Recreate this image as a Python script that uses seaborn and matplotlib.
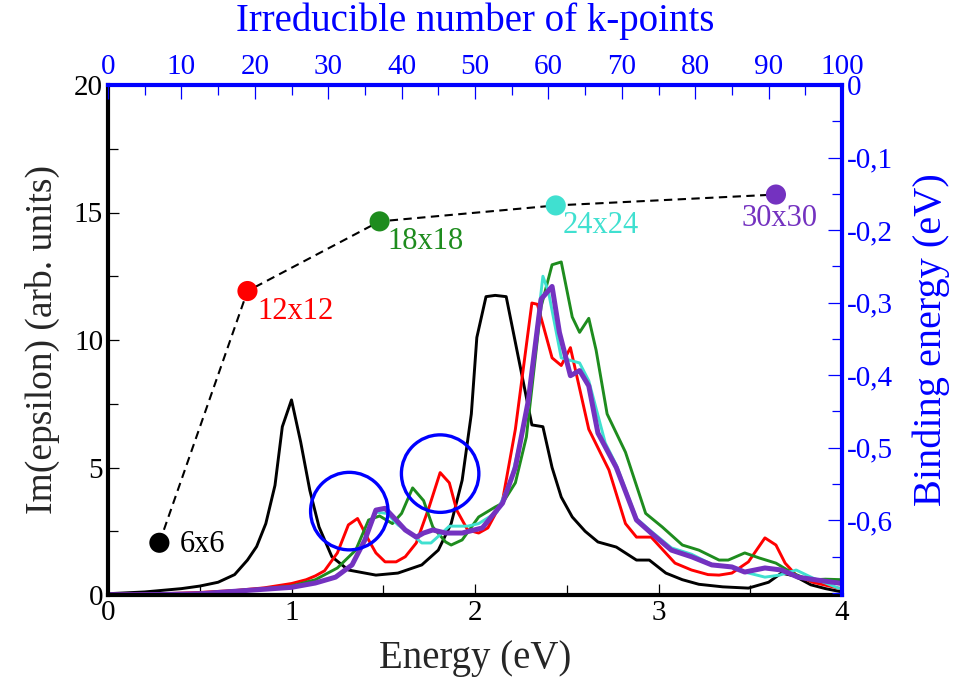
import numpy as np
import pandas as pd
import matplotlib
matplotlib.use("Agg")
import matplotlib.pyplot as plt
from matplotlib.patches import Ellipse
from matplotlib.ticker import MultipleLocator, FuncFormatter
import seaborn as sns

# Im(epsilon) spectra for each k-grid
e_6 = [0.0, 0.2, 0.4, 0.5, 0.6, 0.69, 0.76, 0.81, 0.86, 0.91, 0.95, 1.0, 1.05, 1.1, 1.15, 1.22, 1.31,
       1.46, 1.58, 1.71, 1.8, 1.87, 1.93, 1.98, 2.01, 2.06, 2.11, 2.17, 2.31, 2.37, 2.42, 2.47, 2.53,
       2.6, 2.67, 2.77, 2.88, 2.95, 3.04, 3.13, 3.22, 3.35, 3.49, 3.6, 3.67, 3.74, 3.83, 3.91, 4.0]
im_6 = [0.05, 0.12, 0.25, 0.35, 0.5, 0.8, 1.37, 1.9, 2.8, 4.3, 6.6, 7.65, 6.0, 4.1, 2.67, 1.5, 0.98,
        0.78, 0.86, 1.18, 1.76, 2.8, 4.5, 7.1, 10.1, 11.7, 11.75, 11.7, 6.67, 6.6, 5.0, 3.84, 3.06,
        2.5, 2.08, 1.88, 1.37, 1.37, 0.86, 0.6, 0.42, 0.32, 0.27, 0.5, 0.86, 0.75, 0.4, 0.25, 0.12]

e_12 = [0.0, 0.3, 0.5, 0.7, 0.85, 1.0, 1.08, 1.13, 1.18, 1.25, 1.31, 1.36, 1.42, 1.46, 1.51, 1.57,
        1.62, 1.68, 1.75, 1.81, 1.86, 1.9, 1.96, 2.02, 2.07, 2.15, 2.22, 2.31, 2.34, 2.42, 2.47, 2.52,
        2.62, 2.73, 2.82, 2.88, 2.96, 3.09, 3.18, 3.27, 3.33, 3.4, 3.49, 3.58, 3.64, 3.69, 3.75, 3.84,
        3.98, 4.0]
im_12 = [0.02, 0.05, 0.1, 0.18, 0.28, 0.45, 0.6, 0.75, 0.95, 1.65, 2.75, 3.0, 2.16, 1.65, 1.3, 1.3,
         1.5, 2.04, 3.45, 4.8, 4.4, 3.33, 2.55, 2.43, 2.63, 3.7, 6.5, 11.45, 11.4, 9.3, 9.0, 9.7,
         6.5, 4.9, 2.8, 2.27, 2.27, 1.25, 0.98, 0.8, 0.78, 0.86, 1.3, 2.24, 1.96, 1.25, 0.78, 0.5,
         0.27, 0.25]

e_18 = [0.0, 0.3, 0.5, 0.76, 0.9, 1.0, 1.13, 1.25, 1.35, 1.42, 1.48, 1.55, 1.6, 1.66, 1.72, 1.77,
        1.84, 1.87, 1.93, 2.02, 2.11, 2.15, 2.22, 2.28, 2.36, 2.42, 2.47, 2.53, 2.57, 2.62, 2.66, 2.72,
        2.82, 2.93, 3.02, 3.13, 3.22, 3.33, 3.38, 3.47, 3.55, 3.64, 3.73, 3.82, 3.91, 4.0]
im_18 = [0.01, 0.03, 0.07, 0.2, 0.28, 0.35, 0.6, 1.06, 1.76, 2.94, 3.1, 2.8, 3.2, 4.2, 3.7, 2.67,
         2.08, 1.96, 2.16, 3.06, 3.45, 3.6, 4.4, 6.2, 11.3, 12.95, 13.06, 10.9, 10.3, 10.85, 9.6, 7.1,
         5.6, 3.2, 2.67, 1.96, 1.76, 1.37, 1.37, 1.65, 1.45, 1.25, 0.86, 0.59, 0.62, 0.6]

e_24 = [0.0, 0.3, 0.5, 0.76, 1.0, 1.13, 1.24, 1.33, 1.4, 1.46, 1.52, 1.58, 1.66, 1.71, 1.76, 1.82,
        1.86, 1.96, 2.02, 2.12, 2.2, 2.29, 2.37, 2.4, 2.47, 2.57, 2.62, 2.71, 2.77, 2.88, 2.96, 3.07,
        3.18, 3.29, 3.4, 3.47, 3.58, 3.66, 3.75, 3.84, 3.98, 4.0]
im_24 = [0.01, 0.02, 0.05, 0.18, 0.3, 0.47, 0.7, 1.18, 2.16, 3.25, 3.2, 2.75, 2.35, 2.04, 2.04, 2.43,
         2.7, 2.7, 2.8, 3.25, 4.6, 7.4, 12.5, 11.9, 9.3, 9.1, 8.4, 5.96, 5.1, 3.0, 2.5, 1.85,
         1.6, 1.2, 1.1, 0.9, 0.7, 0.78, 0.98, 0.67, 0.27, 0.25]

e_30 = [0.0, 0.3, 0.5, 0.76, 1.0, 1.13, 1.24, 1.33, 1.4, 1.46, 1.51, 1.57, 1.62, 1.68, 1.72, 1.77,
        1.84, 1.93, 2.04, 2.15, 2.22, 2.29, 2.36, 2.42, 2.46, 2.52, 2.57, 2.62, 2.67, 2.77, 2.88, 2.96,
        3.07, 3.18, 3.29, 3.4, 3.47, 3.58, 3.67, 3.76, 3.86, 3.98, 4.0]
im_30 = [0.01, 0.02, 0.05, 0.18, 0.3, 0.47, 0.7, 1.18, 2.16, 3.33, 3.4, 2.94, 2.55, 2.27, 2.43, 2.55,
         2.43, 2.43, 2.63, 3.6, 5.0, 7.6, 11.6, 12.1, 10.3, 8.6, 8.8, 8.2, 6.35, 5.0, 2.94, 2.43,
         1.76, 1.5, 1.18, 1.1, 0.9, 1.06, 0.98, 0.7, 0.59, 0.47, 0.45]

# binding energy convergence
grids = ["6x6", "12x12", "18x18", "24x24", "30x30"]
kpoints = [7, 19, 37, 61, 91]
ebind = [-0.631, -0.284, -0.188, -0.166, -0.151]

colors = {"6x6": "black", "12x12": "#ff0000", "18x18": "#1e8c1e",
          "24x24": "#40e0d0", "30x30": "#7432c0"}
widths = {"6x6": 2.1, "12x12": 2.1, "18x18": 2.1, "24x24": 2.1, "30x30": 3.6}

spec = pd.concat([
    pd.DataFrame({"energy": e, "im": v, "grid": g})
    for g, e, v in zip(grids, [e_6, e_12, e_18, e_24, e_30], [im_6, im_12, im_18, im_24, im_30])
], ignore_index=True)

sns.set_style("ticks")
plt.rcParams["font.family"] = ["Liberation Serif", "DejaVu Serif"]
blue = "#0000ff"

fig = plt.figure(figsize=(9.55, 6.78), dpi=100)
rect = [108 / 955, 1 - 595 / 678, 734 / 955, 510 / 678]
ax = fig.add_axes(rect)

sns.lineplot(data=spec, x="energy", y="im", hue="grid", size="grid",
             hue_order=grids, size_order=grids, palette=colors, sizes=widths,
             estimator=None, sort=False, legend=False, ax=ax)

ax.add_patch(Ellipse((1.315, 3.29), 0.422, 3.04, fill=False, edgecolor=blue, lw=2.4, zorder=5))
ax.add_patch(Ellipse((1.81, 4.76), 0.422, 3.04, fill=False, edgecolor=blue, lw=2.4, zorder=5))

ax.set_xlim(0, 4)
ax.set_ylim(0, 20)
ax.xaxis.set_major_locator(MultipleLocator(1))
ax.xaxis.set_minor_locator(MultipleLocator(0.5))
ax.yaxis.set_major_locator(MultipleLocator(5))
ax.yaxis.set_minor_locator(MultipleLocator(2.5))
ax.tick_params(which="both", direction="in", labelsize=21, width=0.9, colors="black",
               top=False, right=False)
ax.tick_params(which="major", length=8)
ax.tick_params(which="minor", length=7)
ax.set_xlabel("Energy (eV)", fontsize=28, labelpad=10)
ax.set_ylabel("Im(epsilon) (arb. units)", fontsize=27, labelpad=10)
for s in ["left", "bottom"]:
    ax.spines[s].set_linewidth(3)
    ax.spines[s].set_color("black")
for s in ["top", "right"]:
    ax.spines[s].set_visible(False)

# secondary axes: k-points on top, binding energy on the right
ax2 = fig.add_axes(rect, facecolor="none")
sns.lineplot(x=kpoints, y=ebind, color="black", lw=1.5, ax=ax2, estimator=None,
             sort=False, dashes=False, zorder=3).lines[0].set_dashes([4, 2.6])
sns.scatterplot(x=kpoints, y=ebind, hue=grids, palette=colors, s=210, linewidth=0,
                legend=False, ax=ax2, zorder=4)

offsets = {"6x6": (20, -2, "left"), "12x12": (10, -20, "left"), "18x18": (8, -20, "left"),
           "24x24": (7, -20, "left"), "30x30": (4, -24, "center")}
for g, k, b in zip(grids, kpoints, ebind):
    dx, dy, ha = offsets[g]
    ax2.annotate(g, (k, b), xytext=(dx, dy), textcoords="offset pixels",
                 ha=ha, va="center", fontsize=22, color=colors[g])

ax2.set_xlim(0, 100)
ax2.set_ylim(-0.703, 0)
ax2.xaxis.set_ticks_position("top")
ax2.xaxis.set_label_position("top")
ax2.yaxis.set_ticks_position("right")
ax2.yaxis.set_label_position("right")
ax2.xaxis.set_major_locator(MultipleLocator(10))
ax2.xaxis.set_minor_locator(MultipleLocator(5))
ax2.set_yticks([0, -0.1, -0.2, -0.3, -0.4, -0.5, -0.6])
ax2.yaxis.set_minor_locator(MultipleLocator(0.05))
ax2.yaxis.set_major_formatter(FuncFormatter(lambda v, p: "0" if abs(v) < 1e-9 else f"{v:.1f}".replace(".", ",")))
ax2.tick_params(which="both", direction="in", labelsize=21, width=0.9, colors=blue,
                bottom=False, left=False, top=True, right=True)
ax2.tick_params(which="major", length=10)
ax2.tick_params(which="minor", length=7)
ax2.set_xlabel("Irreducible number of k-points", fontsize=28, color=blue, labelpad=17)
ax2.set_ylabel("Binding energy (eV)", fontsize=29, color=blue, labelpad=14, rotation=90)
for s in ["left", "bottom"]:
    ax2.spines[s].set_visible(False)
for s in ["top", "right"]:
    ax2.spines[s].set_visible(True)
    ax2.spines[s].set_linewidth(3)
    ax2.spines[s].set_color(blue)

fig.savefig("out.png", dpi=100)
